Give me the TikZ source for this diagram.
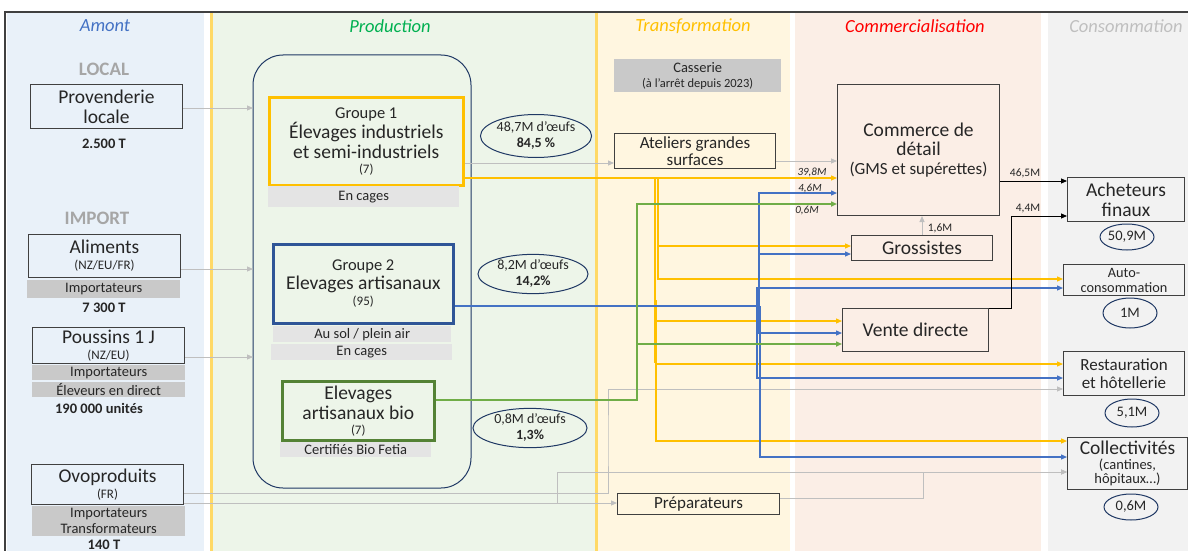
\documentclass[tikz,border=0pt]{standalone}
\usepackage{fontspec}
\setmainfont{Carlito}
\usetikzlibrary{arrows.meta,shapes.geometric,calc}
\definecolor{txt}{HTML}{262626}
\definecolor{bdr}{HTML}{404040}
\definecolor{bgA}{HTML}{E9F1F9}
\definecolor{bgP}{HTML}{EDF5E9}
\definecolor{bgT}{HTML}{FFF6E0}
\definecolor{bgC}{HTML}{FBEEE6}
\definecolor{bgK}{HTML}{F2F2F2}
\definecolor{yline}{HTML}{FFD966}
\definecolor{hA}{HTML}{4472C4}
\definecolor{hP}{HTML}{00B050}
\definecolor{hT}{HTML}{FFC000}
\definecolor{hC}{HTML}{FF0000}
\definecolor{hK}{HTML}{BFBFBF}
\definecolor{secgray}{HTML}{A6A6A6}
\definecolor{bardark}{HTML}{C9C9C9}
\definecolor{barlight}{HTML}{E4E4E4}
\definecolor{navy}{HTML}{1F3864}
\definecolor{lgray}{HTML}{BFBFBF}
\definecolor{yel}{HTML}{FFC000}
\definecolor{blu}{HTML}{4472C4}
\definecolor{grn}{HTML}{70AD47}
\definecolor{g1c}{HTML}{FFC000}
\definecolor{g2c}{HTML}{2F5597}
\definecolor{g3c}{HTML}{548235}
\newcommand\fsz[2]{\fontsize{#1}{#2}\selectfont}
\begin{document}
\begin{tikzpicture}[x=1pt,y=-1pt,
  every node/.style={text=txt, inner sep=0pt},
  box/.style={draw=bdr, line width=1pt, anchor=north west, align=center},
  dbar/.style={fill=bardark, anchor=north west, align=center, font=\fsz{14.5}{16}},
  lbar/.style={fill=barlight, anchor=north west, align=center, font=\fsz{14.5}{16}},
  ell/.style={ellipse, draw=navy, line width=1pt, align=center, font=\fsz{14}{16}},
  sell/.style={ellipse, draw=navy, line width=1pt, font=\fsz{14.5}{16}, minimum width=54pt},
  hdr/.style={font=\fsz{18.5}{20}\itshape},
  qty/.style={font=\fsz{14.5}{16}\bfseries},
  sect/.style={font=\fsz{19}{20}\bfseries, text=secgray},
  flab/.style={font=\fsz{11}{12}\itshape, text=txt},
  blab/.style={font=\fsz{11.5}{12}, text=txt},
  tip/.style={-{Triangle[length=6pt,width=5pt]}},
  garr/.style={draw=lgray, line width=1pt},
  yl/.style={draw=yel, line width=1.2pt},
  ylt/.style={draw=yel, line width=2.6pt},
  bl/.style={draw=blu, line width=1.2pt},
  blt/.style={draw=blu, line width=2.4pt},
  gl/.style={draw=grn, line width=1.6pt},
  kl/.style={draw=black, line width=1pt}
]
\useasboundingbox (0,0) rectangle (1188,551);
\fill[white] (0,0) rectangle (1188,551);
% columns
\fill[bgA] (7,12) rectangle (204,551);
\fill[bgP] (210,12) rectangle (597,551);
\fill[bgT] (598,12) rectangle (790,551);
\fill[bgC] (795,12) rectangle (1041,551);
\fill[bgK] (1048,12) rectangle (1188,551);
\draw[yline, line width=3pt] (211.5,12) -- (211.5,551);
\draw[yline, line width=3pt] (596.5,12) -- (596.5,551);
\draw[black!75, line width=1.2pt] (5,560) -- (5,12) -- (1195,12);
% headers
\node[hdr, text=hA] (hA) at (105,26) {Amont};
\node[hdr, text=hP] (hP) at (390,26) {Production};
\node[hdr, text=hT] (hT) at (693,26) {Transformation};
\node[hdr, text=hC] (hC) at (915,26) {Commercialisation};
\node[hdr, text=hK] (hK) at (1126,26) {Consommation};
% Amont
\node[sect] (loc) at (104,69) {LOCAL};
\node[box, minimum width=152pt, minimum height=44pt, font=\fsz{19.5}{20}] (prov) at (30,84) {Provenderie\\locale};
\node[qty] (q1) at (104,144) {2.500 T};
\node[sect] (imp) at (97,218) {IMPORT};
\node[box, minimum width=152pt, minimum height=43pt, font=\fsz{19.5}{20}] (alim) at (28,234) {Aliments\\[-4pt]{\fsz{13}{14}(NZ/EU/FR)}};
\node[dbar, minimum width=153pt, minimum height=18pt] (b1) at (27,280) {Importateurs};
\node[qty] (q2) at (104,308) {7 300 T};
\node[box, minimum width=152pt, minimum height=36pt, font=\fsz{19.5}{20}] (pous) at (32,327) {Poussins 1 J\\[-4pt]{\fsz{13}{14}(NZ/EU)}};
\node[dbar, minimum width=153pt, minimum height=15pt] (b2) at (32,365) {Importateurs};
\node[dbar, minimum width=153pt, minimum height=15pt] (b3) at (32,382) {Éleveurs en direct};
\node[qty] (q3) at (99,408) {190 000 unités};
\node[box, minimum width=152pt, minimum height=40pt, font=\fsz{19.5}{20}] (ovo) at (31,464) {Ovoproduits\\[-4pt]{\fsz{13}{14}(FR)}};
\node[dbar, minimum width=153pt, minimum height=30pt] (b4) at (32,506) {Importateurs\\Transformateurs};
\node[qty] (q4) at (104,545) {140 T};
% Production
\draw[navy, line width=1pt, rounded corners=30pt] (253,55) rectangle (471,488);
\coordinate (bigW) at (253,270);
\node[box, draw=g1c, line width=2.5pt, minimum width=194pt, minimum height=88pt, font=\fsz{19.5}{20}] (G1) at (268,96) {{\fsz{16.5}{18}Groupe 1}\\Élevages industriels\\et semi-industriels\\[-5pt]{\fsz{13}{15}(7)}};
\node[lbar, minimum width=191pt, minimum height=21pt] (b5) at (268,186) {En cages};
\node[box, draw=g2c, line width=2.5pt, minimum width=180pt, minimum height=79pt, font=\fsz{19.5}{20}] (G2) at (272,243) {{\fsz{16.5}{18}Groupe 2}\\[-1pt]Elevages artisanaux\\[-4pt]{\fsz{13}{15}(95)}};
\node[lbar, minimum width=178pt, minimum height=16pt] (b6) at (273,326) {Au sol / plein air};
\node[lbar, minimum width=181pt, minimum height=16pt] (b7) at (271,344) {En cages};
\node[box, draw=g3c, line width=2.5pt, minimum width=152pt, minimum height=59pt, font=\fsz{19.5}{20}] (G3) at (281,380) {Elevages\\artisanaux bio\\[-5pt]{\fsz{13}{15}(7)}};
\node[lbar, minimum width=151pt, minimum height=15pt] (b8) at (280,442) {Certifiés Bio Fetia};
\node[ell, minimum width=110pt, minimum height=43pt] (e1) at (536,136) {48,7M d’œufs\\{\bfseries 84,5 \%}};
\node[ell, minimum width=110pt, minimum height=38pt] (e2) at (533,274) {8,2M d’œufs\\{\bfseries 14,2\%}};
\node[ell, minimum width=114pt, minimum height=34pt] (e3) at (530,428) {0,8M d’œufs\\{\bfseries 1,3\%}};
% Transformation
\node[dbar, minimum width=167pt, minimum height=33pt, font=\fsz{14.5}{15}] (cas) at (614,59) {Casserie\\{\fsz{12.5}{14}(à l’arrêt depuis 2023)}};
\node[box, minimum width=161pt, minimum height=35pt, font=\fsz{17}{17}] (atel) at (614,133) {Ateliers grandes\\surfaces};
\node[box, minimum width=162pt, minimum height=21pt, font=\fsz{17}{17}] (prep) at (617,493) {Préparateurs};
% Commercialisation
\node[box, minimum width=162pt, minimum height=131pt, font=\fsz{19.5}{19}] (com) at (837,84) {Commerce de\\détail\\{\fsz{17}{19}(GMS et supérettes)}};
\node[box, minimum width=141pt, minimum height=25pt, font=\fsz{19.5}{20}] (gros) at (851,235) {Grossistes};
\node[box, minimum width=146pt, minimum height=43pt, font=\fsz{19.5}{20}] (vente) at (842,308) {Vente directe};
% Consommation
\node[box, minimum width=117pt, minimum height=44pt, font=\fsz{19.5}{20}] (ach) at (1067,177) {Acheteurs\\finaux};
\node[sell, minimum height=26pt] (e4) at (1127,237) {50,9M};
\node[box, minimum width=121pt, minimum height=31pt, font=\fsz{14.3}{15}] (auto) at (1063,264) {Auto-\\consommation};
\node[sell, minimum height=30pt] (e5) at (1130,313) {1M};
\node[box, minimum width=121pt, minimum height=44pt, font=\fsz{17}{18}] (rest) at (1063,351) {Restauration\\et hôtellerie};
\node[sell, minimum height=28pt] (e6) at (1132,413) {5,1M};
\node[box, minimum width=120pt, minimum height=52pt, font=\fsz{19.5}{20}] (coll) at (1067,437) {Collectivités\\[-5pt]{\fsz{14.5}{15}(cantines,}\\[-6pt]{\fsz{14.5}{15}hôpitaux…)}};
\node[sell, minimum height=26pt] (e7) at (1131,507) {0,6M};
% gray connectors
\draw[garr, tip] (prov.east |- 0,108) -- (bigW |- 0,108);
\draw[garr, tip] (alim.east |- 0,269) -- (bigW |- 0,269);
\draw[garr, tip] (pous.east |- 0,357) -- (bigW |- 0,357);
\draw[garr, tip] (G1.east |- 0,163) -- (atel.west |- 0,163);
\draw[garr, tip] (atel.east |- 0,161) -- (com.west |- 0,161);
\draw[garr, tip] (gros.north) -- (gros.north |- com.south);
\node[blab] (l16) at (940,228) {1,6M};
\draw[garr, tip] (ovo.east |- 0,493) -| (608,440) |- (rest.west |- 0,389);
\draw[garr, tip] (ovo.east |- 0,503) -- (prep.west |- 0,503);
\draw[garr, tip] (557,503) |- (coll.west |- 0,472);
\draw[garr, tip] (prep.east |- 0,498) -| (923,485) |- (coll.west |- 0,472);
% yellow
\draw[yl, tip] (655,178) -- (com.west |- 0,178);
\draw[yl, tip] (658,178) |- (gros.west |- 0,246);
\draw[yl, tip] (658,178) |- (auto.west |- 0,279);
\draw[yl, tip] (656,300) |- (vente.west |- 0,321);
\draw[yl, tip] (656,300) |- (rest.west |- 0,364);
\draw[yl, tip] (656,300) |- (coll.west |- 0,441);
\draw[ylt] (G1.east |- 0,178) -- (655,178) -- (655,363);
\node[flab] (l398) at (812,172) {39,8M};
% blue
\draw[bl, tip] (759,306) |- (com.west |- 0,193);
\draw[bl, tip] (759,306) |- (gros.west |- 0,254);
\draw[bl, tip] (757,306) |- (auto.west |- 0,288);
\draw[bl, tip] (759,306) |- (vente.west |- 0,333);
\draw[bl, tip] (757,306) |- (rest.west |- 0,378);
\draw[bl, tip] (760,306) |- (coll.west |- 0,457);
\draw[blt] (G2.east |- 0,306) -- (759,306);
\draw[blt] (759,285) -- (759,310);
\node[flab] (l46) at (810,188) {4,6M};
% green
\draw[gl, tip] (G3.east |- 0,400) -| (637,300) |- (com.west |- 0,204);
\draw[gl, tip] (637,344) -- (vente.west |- 0,344);
\node[flab] (l06) at (807,210) {0,6M};
% black
\draw[kl, tip] (com.east |- 0,181) -- (ach.west |- 0,181);
\node[blab] (l465) at (1025,173) {46,5M};
\draw[kl, tip] (vente.north east) -- (1011,308) |- (ach.west |- 0,216);
\node[blab] (l44) at (1028,209) {4,4M};
\end{tikzpicture}
\end{document}
